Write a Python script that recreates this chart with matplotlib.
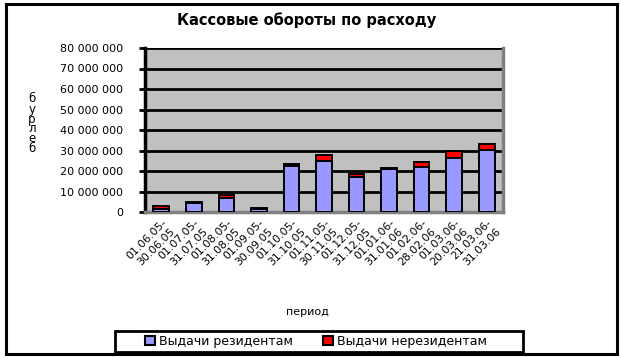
import matplotlib
matplotlib.use("Agg")
import matplotlib.pyplot as plt
from matplotlib.patches import Rectangle, Patch
from matplotlib.ticker import FuncFormatter, MultipleLocator
from matplotlib.transforms import ScaledTranslation
import numpy as np

plt.rcParams['font.family'] = ['DejaVu Sans']

title = "Кассовые обороты по расходу"
periods = ["01.06.05-30.06.05", "01.07.05-31.07.05", "01.08.05-31.08.05",
           "01.09.05-30.09.05", "01.10.05-31.10.05", "01.11.05-30.11.05",
           "01.12.05-31.12.05", "01.01.06-31.01.06", "01.02.06-28.02.06",
           "01.03.06-20.03.06", "21.03.06-31.03.06"]
residents = [1.5e6, 4.5e6, 7.0e6, 1.3e6, 22.4e6, 25.1e6, 17.1e6, 20.8e6, 22.0e6, 26.2e6, 30.4e6]
nonresidents = [1.3e6, 0.5e6, 1.4e6, 0.5e6, 1.2e6, 2.5e6, 1.5e6, 0.8e6, 2.3e6, 3.8e6, 3.0e6]
series_names = ["Выдачи резидентам", "Выдачи нерезидентам"]
y_label = "б\nу\nр\nл\nе\nб"
x_label = "период"

W, H = 621, 358
fig = plt.figure(figsize=(W / 100, H / 100), dpi=100)
fig.patch.set_facecolor("white")

def fx(px):
    return px / W

def fy(py):
    return 1 - py / H

ax = fig.add_axes([fx(145), fy(212), fx(503) - fx(145), fy(48) - fy(212)])
ax.set_facecolor("#C0C0C0")

x = np.arange(len(periods))
ax.bar(x, residents, width=0.48, color="#9999FF", edgecolor="black", linewidth=1.4, zorder=3)
ax.bar(x, nonresidents, width=0.48, bottom=residents, color="#FF0000",
       edgecolor="black", linewidth=1.4, zorder=3)

ax.set_xlim(-0.5, len(periods) - 0.5)
ax.set_ylim(0, 80e6)
ax.yaxis.set_major_locator(MultipleLocator(10e6))
for v in np.arange(10e6, 80e6 + 1, 10e6):
    ax.axhline(v, color="black", lw=2.0, zorder=1)

ax.yaxis.set_major_formatter(FuncFormatter(lambda v, p: f"{v:,.0f}".replace(",", " ")))
ax.tick_params(axis="y", direction="out", length=4, width=2, pad=12, labelsize=8, colors="black")
ax.set_xticks(x)
labels = ax.set_xticklabels([p.replace("-", "-\n") for p in periods], rotation=45, ha="right",
                            va="top", rotation_mode="anchor", fontsize=7.8, linespacing=1.3)
shift = ScaledTranslation(-8 / 100, -1 / 100, fig.dpi_scale_trans)
for lab in labels:
    lab.set_transform(lab.get_transform() + shift)
ax.tick_params(axis="x", length=0, pad=4)

ax.spines["top"].set_visible(False)
ax.spines["left"].set_color("black")
ax.spines["left"].set_linewidth(2.5)
ax.spines["right"].set_color("#808080")
ax.spines["right"].set_linewidth(2.5)
ax.spines["bottom"].set_color("#808080")
ax.spines["bottom"].set_linewidth(2.5)

fig.text(fx(307), fy(20), title, ha="center", va="center", fontsize=10.5, fontweight="bold")
fig.text(fx(32), fy(124), y_label, ha="center", va="center", fontsize=8.5,
         linespacing=0.7)
fig.text(fx(307), fy(312), x_label, ha="center", va="center", fontsize=8)

handles = [Patch(facecolor="#9999FF", edgecolor="black", linewidth=1.5),
           Patch(facecolor="#FF0000", edgecolor="black", linewidth=1.5)]
leg = fig.legend(handles, series_names, loc="center", ncol=2,
                 bbox_to_anchor=(fx(316), fy(341.5)), frameon=False,
                 fontsize=9, handlelength=0.8, handleheight=0.7,
                 handletextpad=0.3, columnspacing=2.4, borderpad=0, borderaxespad=0)

fig.add_artist(Rectangle((fx(115), fy(352)), fx(523) - fx(115), fy(331) - fy(352),
                         transform=fig.transFigure, fill=False, edgecolor="black",
                         linewidth=2))
fig.add_artist(Rectangle((fx(6), fy(354)), fx(617) - fx(6), fy(4) - fy(354),
                         transform=fig.transFigure, fill=False, edgecolor="black",
                         linewidth=2.2))

fig.savefig("out.png", dpi=100, facecolor="white")
